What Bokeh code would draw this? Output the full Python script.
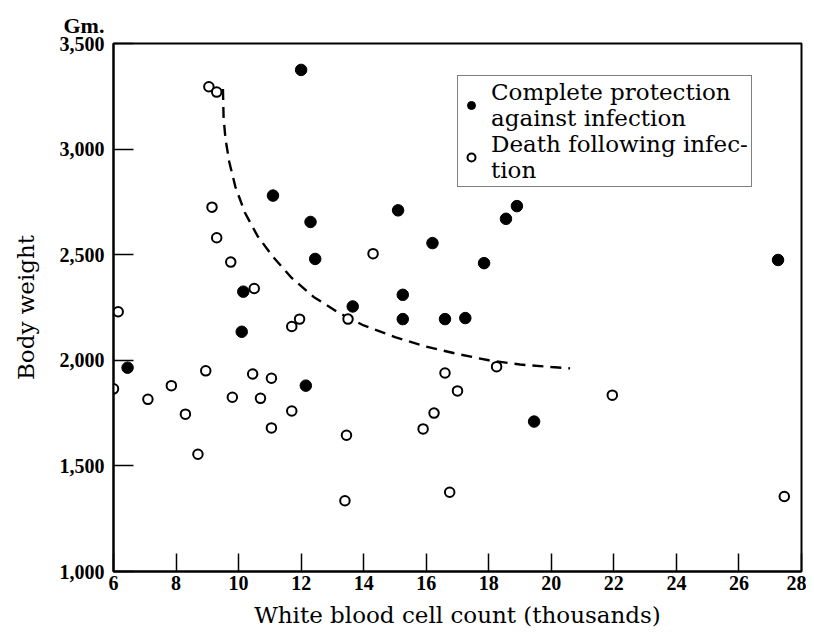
from bokeh.plotting import figure
from bokeh.models import Legend, LegendItem, Title, NumeralTickFormatter, FixedTicker, Range1d
from bokeh.embed import file_html
from bokeh.resources import INLINE

# Complete protection against infection (filled circles)
prot_x = [12.0, 11.1, 12.3, 15.1, 16.2, 12.45, 15.25, 10.15, 13.65, 10.1,
          15.25, 16.6, 17.25, 6.45, 12.15, 19.45, 18.9, 18.55, 17.85, 27.25]
prot_y = [3375, 2780, 2655, 2710, 2555, 2480, 2310, 2325, 2255, 2135,
          2195, 2195, 2200, 1965, 1880, 1710, 2730, 2670, 2460, 2475]

# Death following infection (open circles)
died_x = [9.05, 9.3, 9.15, 9.3, 14.3, 9.75, 10.5, 6.15, 11.7, 11.95, 13.5,
          6.0, 8.95, 7.85, 7.1, 8.3, 8.7, 10.45, 11.05, 9.8, 10.7, 11.7,
          11.05, 13.45, 13.4, 16.6, 16.25, 15.9, 16.75, 17.0, 18.25, 21.95, 27.45]
died_y = [3295, 3270, 2725, 2580, 2505, 2465, 2340, 2230, 2160, 2195, 2195,
          1865, 1950, 1880, 1815, 1745, 1555, 1935, 1915, 1825, 1820, 1760,
          1680, 1645, 1335, 1940, 1750, 1675, 1375, 1855, 1970, 1835, 1355]

# Dashed dividing curve
curve_x = [9.5, 9.52, 9.58, 9.7, 9.9, 10.2, 10.6, 11.1, 11.7, 12.4, 13.2,
           14.0, 15.0, 16.0, 17.0, 18.0, 19.0, 20.0, 20.6]
curve_y = [3285, 3150, 3050, 2940, 2820, 2700, 2590, 2490, 2390, 2300, 2225,
           2165, 2110, 2065, 2030, 2000, 1980, 1968, 1962]

x_ticks = [6, 8, 10, 12, 14, 16, 18, 20, 22, 24, 26, 28]
y_ticks = [1000, 1500, 2000, 2500, 3000, 3500]

TXT_FONT = "DejaVu Serif"
NUM_FONT = "Liberation Serif"

p = figure(frame_width=688, frame_height=528,
           x_range=Range1d(6, 28), y_range=Range1d(1000, 3500),
           output_backend="svg", toolbar_location=None,
           min_border_left=113, min_border_top=43, min_border_right=5,
           min_border_bottom=54)
p.background_fill_color = "white"
p.border_fill_color = "white"
p.xgrid.visible = False
p.ygrid.visible = False
p.outline_line_color = "black"
p.outline_line_width = 2

for ax in (p.xaxis[0], p.yaxis[0]):
    ax.axis_line_width = 2
    ax.axis_line_color = "black"
    ax.major_tick_line_width = 1.5
    ax.major_tick_line_color = "black"
    ax.major_tick_out = 0
    ax.minor_tick_line_color = None
    ax.major_label_text_font = NUM_FONT
    ax.major_label_text_font_style = "bold"
    ax.major_label_text_font_size = "20px"
    ax.major_label_text_color = "black"
    ax.axis_label_text_font = TXT_FONT
    ax.axis_label_text_font_style = "normal"
    ax.axis_label_text_font_size = "23px"
    ax.axis_label_text_color = "black"

p.xaxis.ticker = FixedTicker(ticks=x_ticks)
p.yaxis.ticker = FixedTicker(ticks=y_ticks)
p.yaxis.formatter = NumeralTickFormatter(format="0,0")
p.xaxis.major_tick_in = 18
p.yaxis.major_tick_in = 20
p.xaxis.major_label_standoff = 4
p.yaxis.major_label_standoff = 9
p.xaxis.axis_label = "White blood cell count (thousands)"
p.yaxis.axis_label = "Body weight"
p.xaxis.axis_label_standoff = 9
p.yaxis.axis_label_standoff = 18

p.line(curve_x, curve_y, line_dash="11 7", line_width=2.4, line_color="black")
r_prot = p.scatter(prot_x, prot_y, size=11.5, fill_color="black", line_color="black")
r_died = p.scatter(died_x, died_y, size=9.5, fill_color="white",
                   line_color="black", line_width=2)

legend = Legend(items=[
    LegendItem(label="Complete protection\nagainst infection", renderers=[r_prot]),
    LegendItem(label="Death following infec-\ntion", renderers=[r_died]),
], location=(344, 384), margin=0, padding=3, spacing=-2,
    glyph_width=20, glyph_height=20, label_standoff=10,
    label_text_font=TXT_FONT, label_text_font_size="23px",
    label_text_line_height=0.95, label_text_color="black",
    border_line_color="black", border_line_width=1.5,
    background_fill_color="white", background_fill_alpha=1.0)
legend.padding = 3
p.add_layout(legend)

p.add_layout(Title(text="Gm.", align="left", offset=-50, standoff=12,
                   text_font=NUM_FONT, text_font_style="bold",
                   text_font_size="22px", text_color="black"), "above")

open("out.html", "w").write(file_html(p, INLINE))
